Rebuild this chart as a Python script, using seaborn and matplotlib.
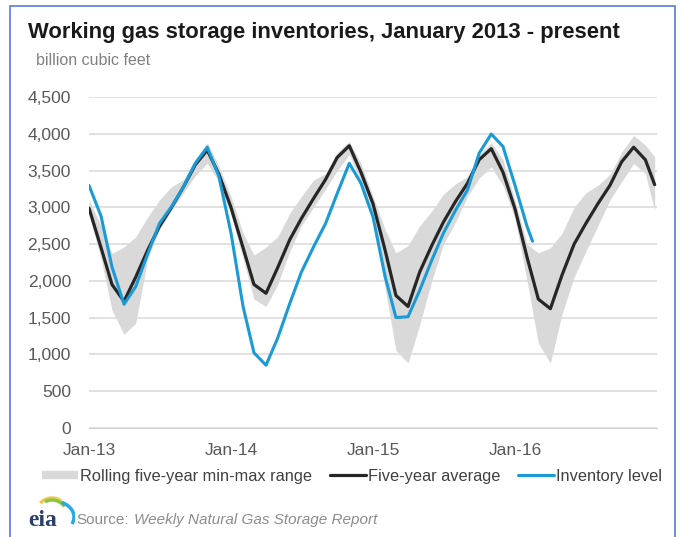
import pandas as pd
import matplotlib
matplotlib.use("Agg")
import matplotlib.pyplot as plt
import matplotlib.dates as mdates
from matplotlib.lines import Line2D
from matplotlib.patches import Rectangle, Arc
import seaborn as sns

# ---------------- data (billion cubic feet) ----------------
avg_dates = list(pd.date_range("2013-01-01", "2016-12-01", freq="MS")) + [pd.Timestamp("2016-12-25")]
inv_dates = list(pd.date_range("2013-01-01", "2016-02-01", freq="MS")) + [pd.Timestamp("2016-02-15")]

five_year_avg = [
    2990, 2450, 1950, 1720, 2050, 2420, 2740, 3000, 3280, 3580, 3780, 3450,
    3000, 2450, 1950, 1830, 2180, 2560, 2850, 3120, 3380, 3680, 3840, 3480,
    3050, 2420, 1800, 1650, 2120, 2480, 2800, 3080, 3330, 3650, 3800, 3480,
    2980, 2320, 1750, 1620, 2080, 2500, 2780, 3050, 3300, 3620, 3820, 3650, 3310,
]
range_max = [
    3100, 2750, 2374, 2460, 2600, 2870, 3100, 3280, 3380, 3650, 3880, 3560,
    3150, 2650, 2350, 2460, 2600, 2920, 3150, 3370, 3460, 3750, 3900, 3600,
    3150, 2700, 2380, 2480, 2750, 2950, 3180, 3320, 3420, 3720, 3880, 3650,
    3100, 2500, 2380, 2450, 2650, 3000, 3200, 3300, 3450, 3750, 3980, 3850, 3690,
]
range_min = [
    2900, 2300, 1600, 1270, 1420, 2300, 2700, 2960, 3200, 3430, 3600, 3350,
    2900, 2300, 1750, 1650, 1950, 2400, 2750, 3000, 3250, 3500, 3720, 3350,
    2900, 1900, 1050, 880, 1400, 2000, 2500, 2800, 3150, 3400, 3550, 3300,
    2850, 2000, 1150, 880, 1550, 2050, 2400, 2750, 3100, 3350, 3600, 3460, 2960,
]
inventory = [
    3300, 2880, 2190, 1680, 1920, 2370, 2780, 3010, 3280, 3600, 3820, 3420,
    2650, 1650, 1020, 850, 1220, 1690, 2120, 2460, 2780, 3190, 3600, 3330,
    2870, 2060, 1500, 1510, 1870, 2280, 2650, 2960, 3240, 3740, 4000, 3830,
    3300, 2740, 2540,
]
year_ticks = ["2013-01-01", "2014-01-01", "2015-01-01", "2016-01-01"]
y_ticks = list(range(0, 4501, 500))

avg_df = pd.DataFrame({"date": avg_dates, "avg": five_year_avg,
                       "lo": range_min, "hi": range_max})
inv_df = pd.DataFrame({"date": inv_dates, "level": inventory})

# ---------------- style ----------------
sns.set_style("white")
plt.rcParams["font.family"] = ["Liberation Sans", "DejaVu Sans"]

GRAY_BAND = "#d9d9d9"
BLACK = "#262626"
BLUE = "#1a9ad6"
TXT = "#595959"

fig = plt.figure(figsize=(6.78, 5.37), dpi=100)
ax = fig.add_axes([89 / 678, 1 - 427.6 / 537, 568 / 678, 330.3 / 537])

ax.fill_between(avg_df["date"], avg_df["lo"], avg_df["hi"], color=GRAY_BAND, lw=0, zorder=1)
sns.lineplot(data=avg_df, x="date", y="avg", color=BLACK, lw=2.3, ax=ax, zorder=3)
sns.lineplot(data=inv_df, x="date", y="level", color=BLUE, lw=2.2, ax=ax, zorder=4)

ax.set_ylim(0, 4500)
ax.set_xlim(pd.Timestamp("2013-01-01"), pd.Timestamp("2016-12-31"))
ax.set_yticks(y_ticks)
ax.set_yticklabels([f"{v:,}" for v in y_ticks])
ax.set_xticks([pd.Timestamp(d) for d in year_ticks])
ax.xaxis.set_major_formatter(mdates.DateFormatter("%b-%y"))
ax.set_xlabel("")
ax.set_ylabel("")

ax.yaxis.grid(True, color="#dcdcdc", lw=1.2)
ax.set_axisbelow(True)
for s in ["top", "right", "left"]:
    ax.spines[s].set_visible(False)
ax.spines["bottom"].set_color("#d0d0d0")
ax.tick_params(axis="y", length=0, pad=13, labelsize=12.5, labelcolor=TXT)
ax.tick_params(axis="x", length=3, color="#d0d0d0", pad=8, labelsize=12.5, labelcolor=TXT)

# ---------------- titles ----------------
fig.text(28 / 678, 1 - 32.5 / 537, "Working gas storage inventories, January 2013 - present",
         fontsize=15.8, fontweight="bold", color="#1a1a1a", ha="left", va="center")
fig.text(36 / 678, 1 - 60.7 / 537, "billion cubic feet", fontsize=11.5, color="#808080",
         ha="left", va="center")

# ---------------- legend ----------------
handles = [Line2D([], [], color=GRAY_BAND, lw=6, solid_capstyle="butt"),
           Line2D([], [], color=BLACK, lw=2.3),
           Line2D([], [], color=BLUE, lw=2.2)]
labels = ["Rolling five-year min-max range", "Five-year average", "Inventory level"]
fig.legend(handles, labels, loc="center", bbox_to_anchor=(0.519, 1 - 476 / 537), ncol=3,
           frameon=False, fontsize=11.8, handlelength=2.2, handletextpad=0.1,
           columnspacing=1.1, labelcolor="#404040")

# ---------------- source + logo ----------------
fig.text(76 / 678, 1 - 520 / 537, "Source:", fontsize=11, color="#8c8c8c", ha="left", va="center")
fig.text(134 / 678, 1 - 520 / 537, "Weekly Natural Gas Storage Report", fontsize=11,
         color="#8c8c8c", style="italic", ha="left", va="center")

lax = fig.add_axes([15 / 678, 1 - 532 / 537, 60 / 678, 42 / 537])
lax.set_xlim(0, 60)
lax.set_ylim(0, 42)
lax.axis("off")
lax.text(13, 6, "eia", family="Liberation Serif", fontsize=17, fontweight="bold",
         color="#2b3f6b", ha="left", va="baseline")
lax.add_patch(Arc((37, 15), 34, 38, theta1=60, theta2=130, color="#f2c94c", lw=2.5))
lax.add_patch(Arc((37, 15), 32, 34, theta1=40, theta2=115, color="#8cc63f", lw=2.5))
lax.add_patch(Arc((38, 15), 42, 32, theta1=-20, theta2=60, color="#27a9e1", lw=2.5))

# outer blue frame
fig.patches.append(Rectangle((10 / 678, -0.05), 665 / 678, 1 - 6 / 537 + 0.05,
                             transform=fig.transFigure, fill=False,
                             edgecolor="#5b7bd5", lw=1.2))

fig.savefig("out.png", dpi=100)
